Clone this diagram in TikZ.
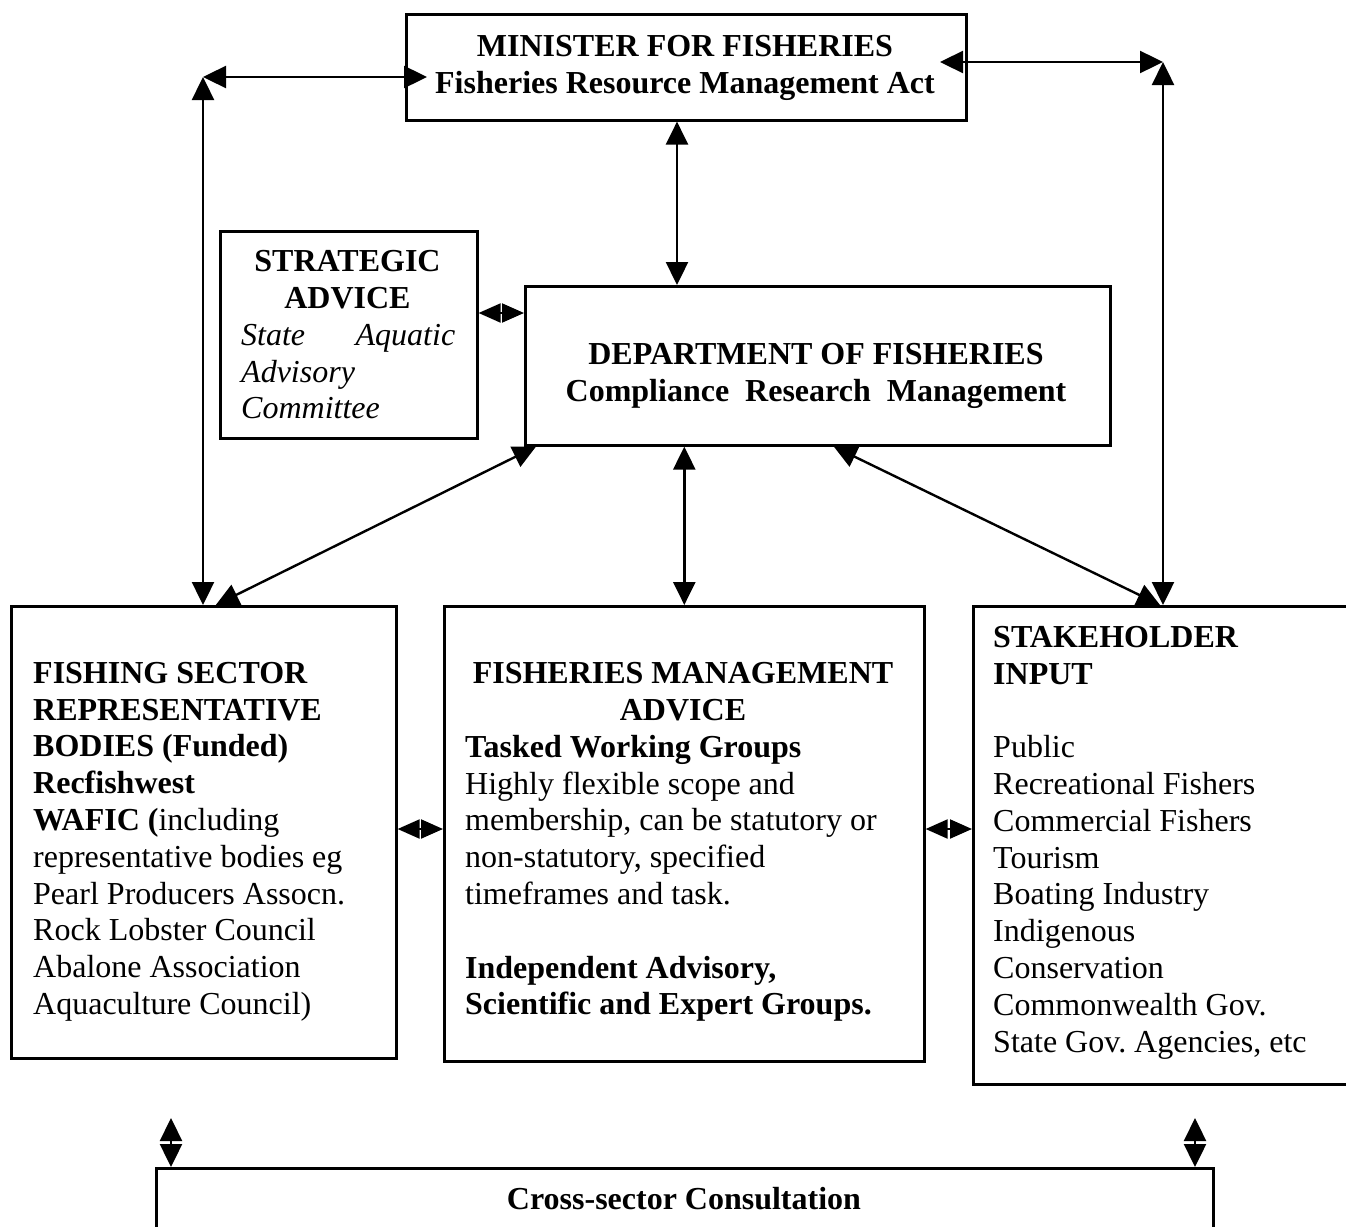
\documentclass[tikz,border=0pt]{standalone}
\usepackage{fontspec}
\setmainfont{Liberation Serif}
\usetikzlibrary{arrows.meta}
\newcommand\fls{\rule{0pt}{26pt}}
\frenchspacing
\begin{document}
\begin{tikzpicture}[x=1pt,y=-1pt,
  box/.style={draw, line width=2.6pt, inner sep=0pt, anchor=north west},
  txt/.style={inner sep=0pt, font=\fontsize{32}{36.8}\selectfont},
  conn/.style={line width=2.4pt, {Triangle[length=23pt,width=22pt]}-{Triangle[length=23pt,width=22pt]}},
  sconn/.style={line width=2pt, {Triangle[length=22pt,width=19pt]}-{Triangle[length=22pt,width=19pt]}},
]
\useasboundingbox (0,0) rectangle (1346,1226);
\begin{scope}
\clip (0,0) rectangle (1346,1226);
% boxes
\node[box, minimum width=560pt, minimum height=106pt] (min) at (405,13) {};
\node[box, minimum width=257pt, minimum height=207pt] (str) at (219,230) {};
\node[box, minimum width=585pt, minimum height=159pt] (dep) at (524,285) {};
\node[box, minimum width=385pt, minimum height=452pt] (fsh) at (10,605) {};
\node[box, minimum width=480pt, minimum height=455pt] (fma) at (443,605) {};
\node[box, minimum width=400pt, minimum height=478pt] (stk) at (972,605) {};
\node[box, minimum width=1057pt, minimum height=200pt] (crs) at (155,1167) {};
% texts
\node[txt, anchor=north, align=center, font=\fontsize{32}{36.8}\selectfont\bfseries] (mint) at (685,30)
  {\fls MINISTER FOR FISHERIES\\Fisheries Resource Management Act};
\node[txt, anchor=north, align=center, font=\fontsize{32}{36.8}\selectfont\bfseries] (strt) at (347.5,245)
  {\fls STRATEGIC\\ADVICE};
\node[txt, anchor=north west, align=left, font=\fontsize{32}{36.8}\selectfont\itshape] (stri) at (241,319)
  {\fls\makebox[214pt][s]{State\hfill Aquatic}\\Advisory\\Committee};
\node[txt, anchor=north, align=center, font=\fontsize{32}{36.8}\selectfont\bfseries] (dept) at (816,338)
  {\fls DEPARTMENT OF FISHERIES\\Compliance\ \ Research\ \ Management};
\node[txt, anchor=north west, align=left] (fsht) at (33,657)
  {\fls\textbf{FISHING SECTOR}\\\textbf{REPRESENTATIVE}\\\textbf{BODIES (Funded)}\\\textbf{Recfishwest}\\\textbf{WAFIC (}including\\representative bodies eg\\Pearl Producers Assocn.\\Rock Lobster Council\\Abalone Association\\Aquaculture Council)};
\node[txt, anchor=north, align=center, font=\fontsize{32}{36.8}\selectfont\bfseries] (fmat) at (683,657)
  {\fls FISHERIES MANAGEMENT\\ADVICE};
\node[txt, anchor=north west, align=left] (fmab) at (465,731)
  {\fls\textbf{Tasked Working Groups}\\Highly flexible scope and\\membership, can be statutory or\\non-statutory, specified\\timeframes and task.\\[36.8pt]\textbf{Independent Advisory,}\\\textbf{Scientific and Expert Groups.}};
\node[txt, anchor=north west, align=left] (stkt) at (993,621)
  {\fls\textbf{STAKEHOLDER}\\\textbf{INPUT}\\[36.8pt]Public\\Recreational Fishers\\Commercial Fishers\\Tourism\\Boating Industry\\Indigenous\\Conservation\\Commonwealth Gov.\\State Gov. Agencies, etc};
\node[txt, anchor=north, font=\fontsize{32}{36.8}\selectfont\bfseries] (crst) at (684,1183)
  {\fls Cross-sector Consultation};
% coordinates
\coordinate (tlc) at (203,77);
\coordinate (minL) at (427,77);
\coordinate (trc) at (1163,62);
\coordinate (minR) at (940,62);
\coordinate (md) at (677,0);
\coordinate (sd) at (0,313);
\coordinate (mid) at (0,829);
\coordinate (bl) at (171,1118);
\coordinate (br) at (1195,1118);
% connectors
\draw[conn] (tlc) -- (minL);
\draw[conn] (tlc) -- (tlc |- fsh.north);
\draw[conn] (minR) -- (trc);
\draw[conn] (trc) -- (trc |- stk.north);
\draw[conn] (md |- min.south) -- (md |- dep.north);
\draw[sconn] (str.east |- sd) -- (dep.west |- sd);
\draw[conn] (fma.north |- dep.south) -- (fma.north);
\draw[conn] ([xshift=12pt]dep.south west) -- ([xshift=12pt]fsh.north);
\draw[conn] ([xshift=16pt]dep.south) -- ([xshift=-3pt]trc |- stk.north);
\draw[sconn] (fsh.east |- mid) -- (fma.west |- mid);
\draw[sconn] (fma.east |- mid) -- (stk.west |- mid);
\draw[conn] (bl) -- (bl |- crs.north);
\draw[conn] (br) -- (br |- crs.north);
\end{scope}
\end{tikzpicture}
\end{document}
